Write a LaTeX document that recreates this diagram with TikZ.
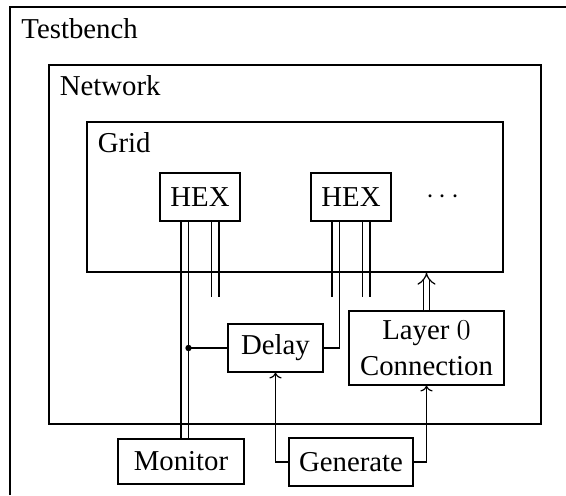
\documentclass[tikz,border=0pt]{standalone}
\usepackage{fontspec}
\setmainfont{Liberation Serif}
\usetikzlibrary{arrows.meta, positioning, calc}

\tikzset{
  blk/.style={draw, line width=0.6pt, inner sep=0pt, minimum height=24pt},
  area/.style={draw, line width=0.6pt, inner sep=0pt},
  lbl/.style={anchor=north west, inner sep=5.5pt},
  wire/.style={line width=0.6pt},
}

\begin{document}
\begin{tikzpicture}[x=0.5pt, y=-0.5pt, font=\fontsize{14.4}{18}\selectfont]
  \useasboundingbox (0,0) rectangle (566,495);
  % Testbench (only top and left edge are in view)
  \draw[wire] (10,495) -- (10,7) -- (566,7);
  \node[lbl] (tblbl) at (10,7) {Testbench};
  % Network and Grid
  \node[area, minimum width=246pt, minimum height=179.5pt] (net) at (295,244.5) {};
  \node[lbl] (netlbl) at (net.north west) {Network};
  \node[area, minimum width=208pt, minimum height=75pt] (grid) at (295,197) {};
  \node[lbl] (gridlbl) at (grid.north west) {Grid};
  % Blocks
  \node[blk, minimum width=40pt] (hexa) at (200,197) {HEX};
  \node[blk, minimum width=40pt] (hexb) at (351,197) {HEX};
  \node (dots) at (443,197) {$\cdots$};
  \node[blk, minimum width=47.5pt] (delay) at (275.5,348) {Delay};
  \node[blk, minimum width=77.5pt, minimum height=37pt, align=center] (layer) at (426.5,348) {Layer $0$\\Connection};
  \node[blk, minimum width=63pt, minimum height=22.5pt] (monitor) at (181,461.5) {Monitor};
  \node[blk, minimum width=62pt] (generate) at (351,462) {Generate};
  % Wires out of the HEX blocks
  \coordinate (stub) at (0,297);
  \foreach \h in {hexa,hexb} {
    \draw[wire] ([xshift=5.75pt]\h.south) -- ([xshift=5.75pt]\h.south |- stub);
    \draw[wire] ([xshift=9.5pt]\h.south) -- ([xshift=9.5pt]\h.south |- stub);
  }
  \draw[wire] ([xshift=-9.5pt]hexa.south) -- ([xshift=-9.5pt]hexa.south |- monitor.north);
  \draw[wire] ([xshift=-5.75pt]hexa.south) -- ([xshift=-5.75pt]hexa.south |- monitor.north);
  \draw[wire] ([xshift=-9.5pt]hexb.south) -- ([xshift=-9.5pt]hexb.south |- stub);
  \draw[wire] ([xshift=-5.75pt]hexb.south) |- (delay.east);
  \fill ([xshift=-5.75pt]hexa.south |- delay.west) coordinate (tap) circle (1.6pt);
  \draw[wire] (tap) -- (delay.west);
  % Layer 0 into the grid
  \draw[wire, double, double distance=2.6pt, -{Implies}] (layer.north) -- (layer.north |- grid.south);
  % Generate
  \draw[wire, ->] (generate.west) -| (delay.south);
  \draw[wire, ->] (generate.east) -| (layer.south);
\end{tikzpicture}
\end{document}
